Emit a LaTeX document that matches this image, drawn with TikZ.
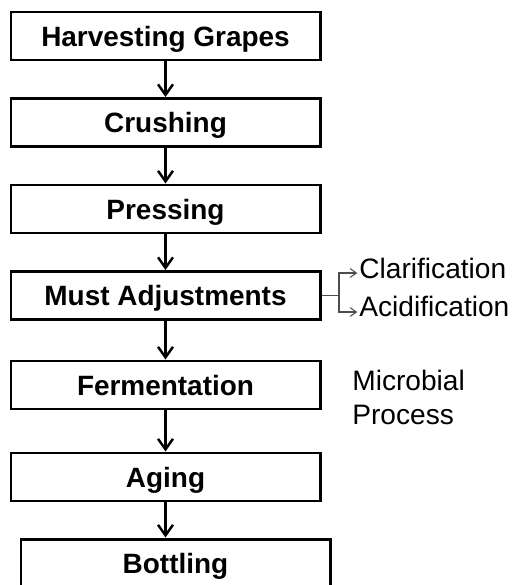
\documentclass[tikz,border=0pt]{standalone}
\usepackage{fontspec}
\setsansfont{Liberation Sans}
\usetikzlibrary{arrows.meta}

\tikzset{
  stepbox/.style={draw, line width=1.7pt, minimum width=6.18cm, minimum height=0.96cm,
    inner sep=0pt, text height=11.4pt, text depth=0pt,
    font=\sffamily\bfseries\fontsize{15.9pt}{19pt}\selectfont},
  flow/.style={line width=1.4pt, -{Straight Barb[length=6pt,width=8.5pt]}},
  branch/.style={line width=0.6pt, draw=black!70},
  note/.style={inner sep=0pt, font=\sffamily\fontsize{16pt}{19.3pt}\selectfont}
}

\begin{document}
\begin{tikzpicture}
  \useasboundingbox (0,0) rectangle (10.26,-11.7);
  \clip (0,0) rectangle (10.26,-11.7);

  % Schritte
  \node[stepbox] (harvest) at (3.31,-0.72) {Harvesting Grapes};
  \node[stepbox] (crush)   at (3.31,-2.45) {Crushing};
  \node[stepbox] (press)   at (3.31,-4.18) {Pressing};
  \node[stepbox] (must)    at (3.31,-5.91) {Must Adjustments};
  \node[stepbox] (ferment) at (3.31,-7.70) {Fermentation};
  \node[stepbox] (aging)   at (3.31,-9.54) {Aging};
  \node[stepbox] (bottle)  at (3.51,-11.26) {Bottling};

  \draw[flow] (harvest.south) -- (crush.north);
  \draw[flow] (crush.south) -- (press.north);
  \draw[flow] (press.south) -- (must.north);
  \draw[flow] (must.south) -- (ferment.north);
  \draw[flow] (ferment.south) -- (aging.north);
  \draw[flow] (aging.south) -- (aging.south |- bottle.north);

  % Verzweigung
  \node[note, anchor=base west] (clar) at (7.18,-5.56) {Clarification};
  \node[note, anchor=base west] (acid) at (7.18,-6.32) {Acidification};
  \coordinate (fork) at (6.78,-5.91);

  \draw[branch] (must.east) -- (fork);
  \draw[branch, -{Straight Barb[length=3.5pt,width=5pt]}, shorten >=1pt]
    (fork) |- ([yshift=0.1cm]clar.base west);
  \draw[branch, -{Straight Barb[length=3.5pt,width=5pt]}, shorten >=1pt]
    (fork) |- ([yshift=0.08cm]acid.base west);

  \node[note, align=left, anchor=north west] (micro) at (7.04,-7.40) {Microbial\\Process};

\end{tikzpicture}
\end{document}
